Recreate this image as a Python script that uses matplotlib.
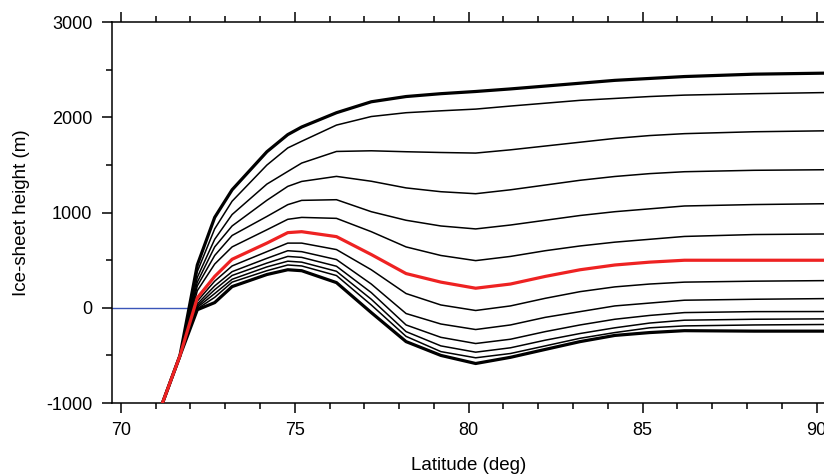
import matplotlib
matplotlib.use("Agg")
import matplotlib.pyplot as plt
import numpy as np
from matplotlib.ticker import MultipleLocator

plt.rcParams['font.family'] = ['Liberation Sans', 'DejaVu Sans']
plt.rcParams['axes.unicode_minus'] = False

# bed below the ice margin (shared by every profile)
bed_lat = [70.7, 71.2, 71.7]
bed_h = [-1520, -1000, -505]

# latitudes of the ice-sheet surface points
lat = [72.2, 72.7, 73.2, 74.2, 74.8, 75.2, 76.2, 77.2, 78.2, 79.2, 80.2,
       81.2, 82.2, 83.2, 84.2, 85.2, 86.2, 88.2, 90.3]

# surface height (m) of each profile, first to last
surface = [
    [450, 950, 1240, 1640, 1820, 1900, 2050, 2165, 2220, 2250, 2273,
     2300, 2330, 2360, 2390, 2410, 2430, 2455, 2466],
    [380, 830, 1120, 1500, 1680, 1750, 1920, 2010, 2050, 2070, 2088,
     2120, 2150, 2180, 2200, 2220, 2235, 2250, 2262],
    [320, 720, 980, 1300, 1433, 1521, 1643, 1650, 1640, 1632, 1626,
     1660, 1700, 1740, 1780, 1810, 1830, 1850, 1860],
    [270, 640, 860, 1130, 1276, 1328, 1381, 1330, 1260, 1220, 1199,
     1240, 1290, 1340, 1380, 1410, 1430, 1445, 1451],
    [230, 550, 760, 960, 1084, 1129, 1136, 1010, 920, 860, 829,
     870, 920, 970, 1010, 1040, 1070, 1085, 1094],
    [180, 460, 640, 820, 930, 950, 940, 800, 640, 550, 496,
     540, 600, 650, 690, 720, 750, 770, 776],
    [105, 330, 510, 680, 790, 800, 748, 560, 360, 270, 206,
     250, 330, 400, 450, 480, 500, 500, 500],
    [70, 280, 440, 590, 680, 680, 612, 400, 150, 30, -28,
     20, 100, 170, 220, 250, 270, 280, 286],
    [40, 230, 380, 520, 600, 590, 507, 250, -60, -170, -228,
     -180, -100, -40, 20, 50, 80, 90, 97],
    [20, 190, 340, 470, 540, 530, 437, 160, -180, -310, -375,
     -330, -250, -180, -120, -80, -50, -40, -39],
    [5, 150, 300, 430, 490, 480, 384, 90, -250, -400, -466,
     -420, -340, -270, -210, -160, -130, -120, -116],
    [-10, 110, 270, 390, 450, 440, 339, 30, -300, -460, -525,
     -480, -400, -320, -260, -210, -190, -180, -175],
    [-20, 55, 223, 350, 400, 390, 265, -50, -355, -500, -585,
     -520, -437, -355, -290, -260, -240, -245, -245],
]
highlight = 6  # profile drawn in red

# sea surface off the ice margin
sea_lat = [69.74, 71.94]
sea_h = [0, 0]

fig = plt.figure(figsize=(8.24, 4.75), dpi=100)
ax = fig.add_axes([111.7 / 824, 72 / 475, 714 / 824, 380.7 / 475])

ax.plot(sea_lat, sea_h, color='#3a55b8', lw=1.0, zorder=2)

n = len(surface)
for i, h in enumerate(surface):
    if i == highlight:
        continue
    lw = 2.3 if i in (0, n - 1) else 1.1
    ax.plot(bed_lat + lat, bed_h + h, color='black', lw=lw,
            solid_joinstyle='round', zorder=3)

ax.plot(bed_lat + lat, bed_h + surface[highlight], color='#ee2222', lw=2.3,
        solid_joinstyle='round', zorder=4)

ax.set_xlim(69.74, 90.26)
ax.set_ylim(-1000, 3000)
ax.xaxis.set_major_locator(MultipleLocator(5))
ax.xaxis.set_minor_locator(MultipleLocator(1))
ax.yaxis.set_major_locator(MultipleLocator(1000))
ax.yaxis.set_minor_locator(MultipleLocator(500))
ax.tick_params(which='both', direction='out', width=1.1, top=True, right=True,
               labelsize=13, pad=7)
ax.tick_params(which='major', length=7)
ax.tick_params(which='minor', length=4)
for s in ax.spines.values():
    s.set_linewidth(1.1)

fig.text(468.7 / 824, 1 - 466 / 475, 'Latitude (deg)', ha='center', va='center',
         fontsize=13.5)
fig.text(22 / 824, 1 - 212.5 / 475, 'Ice-sheet height (m)', ha='center',
         va='center', rotation=90, fontsize=13.5)

fig.savefig('out.png', dpi=100)
